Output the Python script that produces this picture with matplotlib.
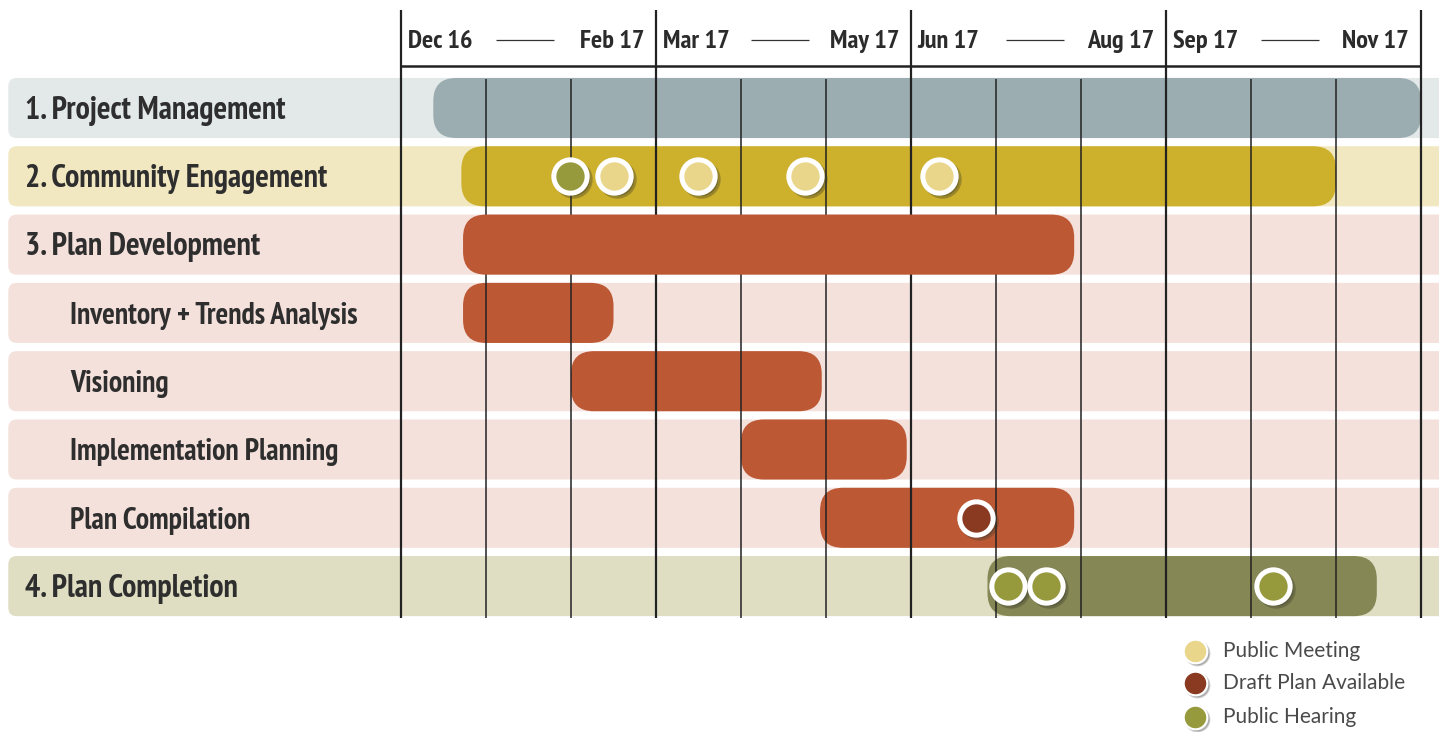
import matplotlib.pyplot as plt
from matplotlib.patches import FancyBboxPatch
from matplotlib.transforms import offset_copy

# Rows (top to bottom) and their bars, in months from Dec 2016 (0 = start of Dec 16)
rows = ["1. Project Management", "2. Community Engagement", "3. Plan Development",
        "Inventory + Trends Analysis", "Visioning", "Implementation Planning",
        "Plan Compilation", "4. Plan Completion"]
indent = [False, False, False, True, True, True, True, False]
bar_start = [0.38, 0.71, 0.73, 0.73, 2.0, 4.0, 4.93, 6.9]
bar_end = [12.0, 11.0, 7.92, 2.5, 4.95, 5.95, 7.92, 11.48]
bar_colors = ["#9badb0", "#cdb02c", "#bd5835", "#bd5835", "#bd5835",
              "#bd5835", "#bd5835", "#858755"]
band_colors = ["#e3e9e9", "#f1e8c1", "#f4e1dc", "#f4e1dc", "#f4e1dc",
               "#f4e1dc", "#f4e1dc", "#dfddc2"]

# quarter headers
q_first = ["Dec 16", "Mar 17", "Jun 17", "Sep 17"]
q_last = ["Feb 17", "May 17", "Aug 17", "Nov 17"]

# milestones: (row index, month position, kind)
ms_row = [1, 1, 1, 1, 1, 6, 7, 7, 7]
ms_pos = [1.99, 2.51, 3.49, 4.75, 6.33, 6.76, 7.14, 7.59, 10.26]
ms_kind = ["hearing", "meeting", "meeting", "meeting", "meeting",
           "draft", "hearing", "hearing", "hearing"]
kind_colors = {"meeting": "#e9d68a", "draft": "#8b3a22", "hearing": "#979a3c"}
legend_kinds = ["meeting", "draft", "hearing"]
legend_labels = ["Public Meeting", "Draft Plan Available", "Public Hearing"]

# geometry in pixels of the 1439x732 canvas
W, H = 1439, 732
px_month = 85.0
px_row = 68.3
x0_px, y0_px = 401, 108

fig = plt.figure(figsize=(W / 100, H / 100), dpi=100)
ax = fig.add_axes([0, 0, 1, 1])
ax.set_xlim(-x0_px / px_month, (W - x0_px) / px_month)
ax.set_ylim((H - y0_px) / px_row, -y0_px / px_row)
ax.axis("off")

aspect = px_month / px_row
bar_h = 0.88
label_font = ["PT Sans Narrow", "DejaVu Sans"]

for i, name in enumerate(rows):
    # background band
    band = FancyBboxPatch((-4.62, i - bar_h / 2), 17.5, bar_h,
                          boxstyle="round,pad=0,rounding_size=0.1",
                          mutation_aspect=aspect, fc=band_colors[i], ec="none", zorder=1)
    ax.add_patch(band)
    # bar
    bar = FancyBboxPatch((bar_start[i], i - bar_h / 2), bar_end[i] - bar_start[i], bar_h,
                         boxstyle="round,pad=0,rounding_size=0.27",
                         mutation_aspect=aspect, fc=bar_colors[i], ec="none",
                         zorder=4 if i == 2 else 2)
    ax.add_patch(bar)
    ax.text(-3.89 if indent[i] else -4.42, i + 0.04, name, family=label_font,
            weight="bold", fontsize=21.5 if indent[i] else 23, color="#2e2e2e",
            va="center", ha="left", zorder=5)

# month grid lines
bottom = len(rows) - 1 + bar_h / 2 + 0.02
for m in range(13):
    if m % 3 == 0:
        ax.vlines(m, -1.43, bottom, color="#222222", lw=1.6, zorder=3)
    else:
        ax.vlines(m, -0.42, bottom, color="#222222", lw=1.1, zorder=3)
ax.hlines(-0.615, 0, 12, color="#222222", lw=1.8, zorder=3)

# quarter header labels
for q in range(4):
    ax.text(q * 3 + 0.08, -0.97, q_first[q], family=label_font, weight="bold",
            fontsize=19, color="#2b2b2b", ha="left", va="center")
    ax.text(q * 3 + 2.86, -0.97, q_last[q], family=label_font, weight="bold",
            fontsize=19, color="#2b2b2b", ha="right", va="center")
    ax.hlines(-1.0, q * 3 + 1.12, q * 3 + 1.8, color="#333333", lw=0.9)

# milestones with soft drop shadow
shadow = offset_copy(ax.transData, fig=fig, x=3, y=-3, units="dots")
for r, p, k in zip(ms_row, ms_pos, ms_kind):
    ax.plot(p, r, "o", ms=24, mfc="#3a3a2a", mec="#3a3a2a", mew=3.6, alpha=0.35,
            transform=shadow, zorder=6)
    ax.plot(p, r, "o", ms=24, mfc=kind_colors[k], mec="white", mew=3.6, zorder=7)

# legend
leg_y = [7.95, 8.42, 8.92]
leg_shadow = offset_copy(ax.transData, fig=fig, x=2, y=-2, units="dots")
for k, lab, y in zip(legend_kinds, legend_labels, leg_y):
    ax.plot(9.34, y, "o", ms=17, mfc="#555555", mec="#555555", mew=1.5, alpha=0.3,
            transform=leg_shadow, zorder=6)
    ax.plot(9.34, y, "o", ms=17, mfc=kind_colors[k], mec="white", mew=1.5, zorder=7)
    ax.text(9.67, y, lab, family=["Lato", "DejaVu Sans"], fontsize=15, color="#4a4a4a",
            va="center", ha="left")

fig.savefig("out.png", dpi=100)
